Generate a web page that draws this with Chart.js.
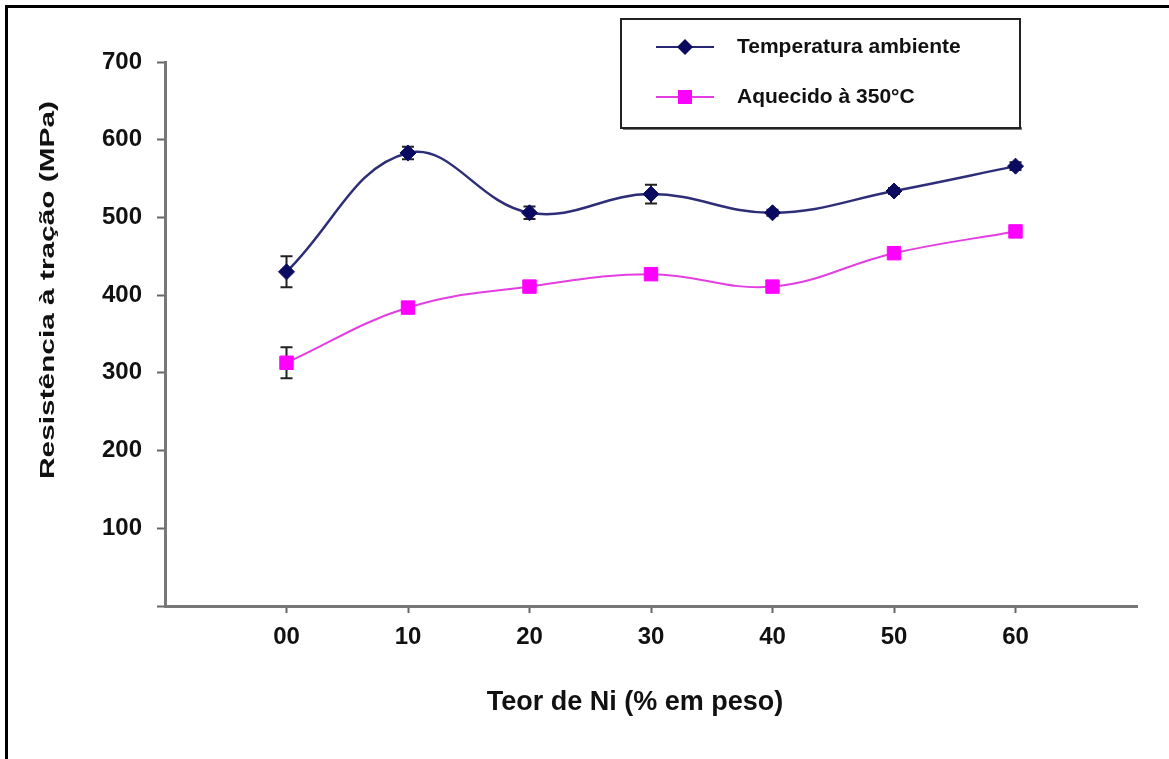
<!DOCTYPE html>
<html>
<head>
<meta charset="utf-8">
<script src="https://cdn.jsdelivr.net/npm/chart.js@4/dist/chart.umd.min.js"></script>
<style>
  html, body { margin: 0; padding: 0; background: #fff; }
  #wrap { width: 1169px; height: 759px; position: relative; }
</style>
</head>
<body>
<div id="wrap"><canvas id="c" width="1169" height="759"></canvas></div>
<script>
// Teor de Ni (% em peso)
const niContent = [0, 10, 20, 30, 40, 50, 60];
const tickLabels = { 0: '00', 10: '10', 20: '20', 30: '30', 40: '40', 50: '50', 60: '60' };

// Resistência à tração (MPa)
const ambiente = [430, 583, 506, 530, 506, 534, 566];
const ambienteErr = [20, 8, 8, 12, 4, 4, 5];
const aquecido = [313, 384, 411, 427, 411, 454, 482];
const aquecidoErr = [20, 4, 4, 4, 4, 4, 4];

const seriesNames = ['Temperatura ambiente', 'Aquecido à 350°C'];
const xTitle = 'Teor de Ni (% em peso)';
const yTitle = 'Resistência à tração (MPa)';
const FONT = '"Liberation Sans", Arial, sans-serif';

const toPoints = (vals, errs) => vals.map((v, i) => ({ x: niContent[i], y: v, err: errs[i] }));

// error bars, drawn under the markers
const errorBars = {
  id: 'errorBars',
  beforeDatasetsDraw(chart) {
    const ctx = chart.ctx;
    const xs = chart.scales.x, ys = chart.scales.y;
    ctx.save();
    ctx.strokeStyle = '#222';
    ctx.lineWidth = 2;
    chart.data.datasets.forEach(ds => {
      ds.data.forEach(p => {
        const x = xs.getPixelForValue(p.x);
        const top = ys.getPixelForValue(p.y + p.err);
        const bot = ys.getPixelForValue(p.y - p.err);
        ctx.beginPath();
        ctx.moveTo(x, top); ctx.lineTo(x, bot);
        ctx.moveTo(x - 6, top); ctx.lineTo(x + 6, top);
        ctx.moveTo(x - 6, bot); ctx.lineTo(x + 6, bot);
        ctx.stroke();
      });
    });
    ctx.restore();
  }
};

// axis titles, boxed legend and page frame
const decorations = {
  id: 'decorations',
  afterDraw(chart) {
    const ctx = chart.ctx;
    ctx.save();
    // frame lines (top + left)
    ctx.fillStyle = '#000';
    ctx.fillRect(5, 5, 1164, 3);
    ctx.fillRect(5, 5, 3, 754);

    // axis titles
    ctx.fillStyle = '#111';
    ctx.textAlign = 'center';
    ctx.textBaseline = 'middle';
    ctx.font = 'bold 27px ' + FONT;
    ctx.fillText(xTitle, 635, 703);
    ctx.save();
    ctx.translate(48, 290);
    ctx.rotate(-Math.PI / 2);
    ctx.scale(1.42, 1); // stretched along its length like the original
    ctx.font = 'bold 21px ' + FONT;
    ctx.fillText(yTitle, 0, 0);
    ctx.restore();

    // legend box
    const bx = 621, by = 19, bw = 399, bh = 109;
    ctx.fillStyle = '#777';
    ctx.fillRect(bx + 2, by + bh - 1, bw, 3);
    ctx.fillStyle = '#fff';
    ctx.fillRect(bx, by, bw, bh);
    ctx.strokeStyle = '#222';
    ctx.lineWidth = 2;
    ctx.strokeRect(bx, by, bw, bh);

    const items = [
      { y: 47, color: '#262673', marker: 'diamond' },
      { y: 97, color: '#e23ee2', marker: 'square' }
    ];
    items.forEach((it, i) => {
      ctx.strokeStyle = it.color;
      ctx.lineWidth = 2;
      ctx.beginPath();
      ctx.moveTo(656, it.y); ctx.lineTo(714, it.y);
      ctx.stroke();
      ctx.fillStyle = it.marker === 'square' ? '#ff00ff' : '#0a0a60';
      if (it.marker === 'square') {
        ctx.fillRect(678, it.y - 7, 14, 14);
      } else {
        ctx.beginPath();
        ctx.moveTo(685, it.y - 8); ctx.lineTo(693, it.y);
        ctx.lineTo(685, it.y + 8); ctx.lineTo(677, it.y);
        ctx.closePath(); ctx.fill();
      }
      ctx.fillStyle = '#111';
      ctx.textAlign = 'left';
      ctx.font = 'bold 21px ' + FONT;
      ctx.fillText(seriesNames[i], 737, it.y);
    });
    ctx.restore();
  }
};

new Chart(document.getElementById('c'), {
  type: 'line',
  data: {
    datasets: [
      {
        label: seriesNames[0],
        data: toPoints(ambiente, ambienteErr),
        borderColor: '#2e2e78',
        borderWidth: 2.5,
        tension: 0.4,
        pointStyle: 'rectRot',
        pointRadius: 8,
        pointBackgroundColor: '#0a0a60',
        pointBorderColor: '#0a0a60',
        pointBorderWidth: 1
      },
      {
        label: seriesNames[1],
        data: toPoints(aquecido, aquecidoErr),
        borderColor: '#e23ee2',
        borderWidth: 2,
        tension: 0.4,
        pointStyle: 'rect',
        pointRadius: 9.5,
        pointBackgroundColor: '#ff00ff',
        pointBorderColor: '#ff00ff',
        pointBorderWidth: 1
      }
    ]
  },
  options: {
    animation: false,
    responsive: false,
    devicePixelRatio: 1,
    layout: { padding: { left: 0, top: 62, right: 32, bottom: 43 } },
    plugins: { legend: { display: false }, tooltip: { enabled: false } },
    scales: {
      x: {
        type: 'linear',
        min: -10,
        max: 70,
        afterFit: s => { s.height = 110; },
        afterBuildTicks: s => { s.ticks = [-10, 0, 10, 20, 30, 40, 50, 60, 70].map(v => ({ value: v })); },
        ticks: {
          autoSkip: false,
          maxRotation: 0,
          padding: 10,
          color: '#111',
          font: { family: FONT, size: 24, weight: 'bold' },
          callback: v => tickLabels[v] || ''
        },
        grid: {
          drawOnChartArea: false,
          tickLength: 7,
          tickWidth: 2,
          tickColor: c => (c.tick && (c.tick.value === -10 || c.tick.value === 70)) ? 'rgba(0,0,0,0)' : '#666'
        },
        border: { color: '#777', width: 3 }
      },
      y: {
        min: 0,
        max: 700,
        afterFit: s => { s.width = 165; },
        ticks: {
          stepSize: 100,
          padding: 15,
          color: '#111',
          font: { family: FONT, size: 24, weight: 'bold' },
          callback: v => v === 0 ? '' : String(v)
        },
        grid: { drawOnChartArea: false, tickLength: 8, tickWidth: 2, tickColor: '#666' },
        border: { color: '#777', width: 3 }
      }
    }
  },
  plugins: [errorBars, decorations]
});
</script>
</body>
</html>
